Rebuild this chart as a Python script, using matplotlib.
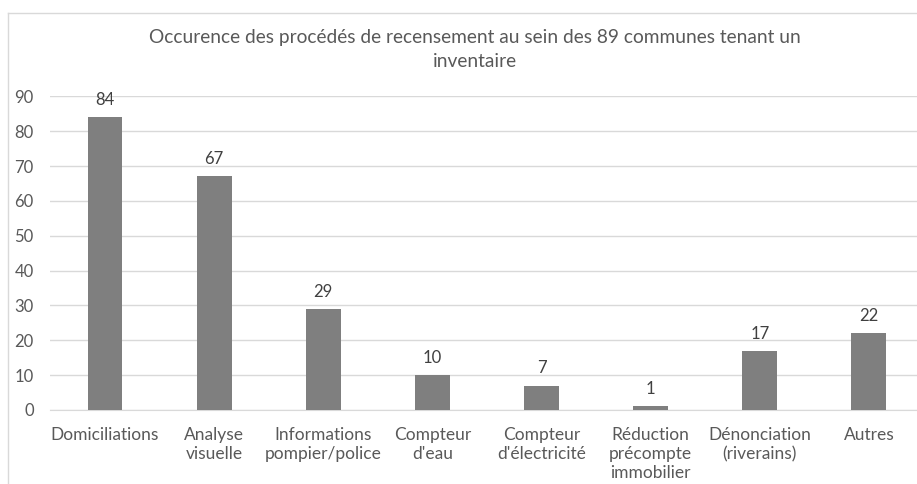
import matplotlib.pyplot as plt
from matplotlib.lines import Line2D

categories = ["Domiciliations", "Analyse\nvisuelle", "Informations\npompier/police",
              "Compteur\nd'eau", "Compteur\nd'électricité", "Réduction\nprécompte\nimmobilier",
              "Dénonciation\n(riverains)", "Autres"]
values = [84, 67, 29, 10, 7, 1, 17, 22]
yticks = list(range(0, 100, 10))

plt.rcParams['font.family'] = ['Lato', 'DejaVu Sans']
txt = '#595959'

fig = plt.figure(figsize=(9.17, 4.84), dpi=100)
ax = fig.add_axes([0.055, 0.153, 0.952, 0.648])

x = range(len(categories))
ax.bar(x, values, width=0.32, color='#7f7f7f', zorder=3)
for i, v in zip(x, values):
    ax.text(i, v + 2.6, str(v), ha='center', va='bottom', fontsize=12, color='#404040')

ax.set_xlim(-0.5, 7.5)
ax.set_ylim(0, 90)
ax.set_yticks(yticks)
ax.set_xticks(list(x))
ax.set_xticklabels(categories, fontsize=12.5, color=txt, linespacing=1.25)
ax.tick_params(axis='y', labelsize=12, labelcolor=txt, length=0, pad=12)
ax.tick_params(axis='x', length=0, pad=12)
ax.grid(axis='y', color='#d9d9d9', linewidth=1, zorder=0)
for s in ['top', 'right', 'left']:
    ax.spines[s].set_visible(False)
ax.spines['bottom'].set_color('#d9d9d9')

fig.text(0.518, 0.897, "Occurence des procédés de recensement au sein des 89 communes tenant un\ninventaire",
         ha='center', va='center', fontsize=13.8, color=txt, linespacing=1.5)

# cadre du graphique
fig.add_artist(Line2D([8 / 917, 8 / 917], [0, 1 - 13 / 484], color='#d9d9d9', lw=1, transform=fig.transFigure))
fig.add_artist(Line2D([8 / 917, 1], [1 - 13 / 484, 1 - 13 / 484], color='#d9d9d9', lw=1, transform=fig.transFigure))

fig.savefig("out.png", dpi=100)
